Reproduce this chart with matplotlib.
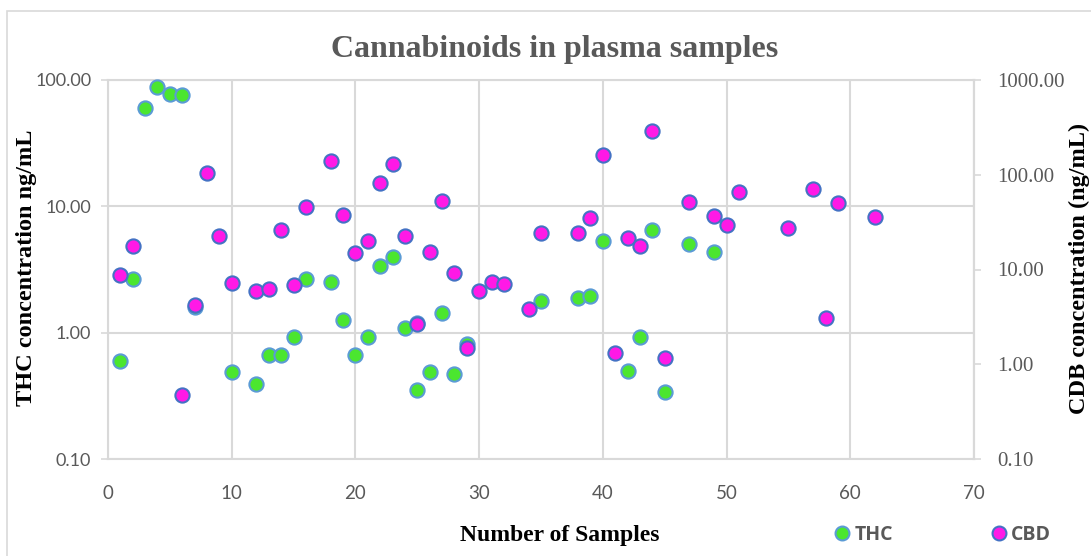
import matplotlib
matplotlib.use("Agg")
import matplotlib.pyplot as plt
from matplotlib.lines import Line2D
from matplotlib.patches import Rectangle
from matplotlib.ticker import FixedLocator, FuncFormatter, NullLocator

# THC (left axis, ng/mL)
thc_x = [1, 2, 3, 4, 5, 6, 7, 10, 12, 13, 14, 15, 16, 18, 19, 20, 21, 22,
         23, 24, 25, 25, 26, 27, 28, 29, 35, 38, 39, 40, 42, 43, 44, 45, 47, 49]
thc_y = [0.60, 2.68, 60, 88, 77, 76, 1.6, 0.49, 0.39, 0.67, 0.67, 0.93, 2.66,
         2.53, 1.26, 0.67, 0.93, 3.4, 3.96, 1.09, 0.35, 1.2, 0.49, 1.43, 0.47,
         0.81, 1.79, 1.89, 1.96, 5.3, 0.50, 0.92, 6.45, 0.34, 5.06, 4.34]

# CBD (right axis, ng/mL)
cbd_x = [1, 2, 6, 7, 8, 9, 10, 12, 13, 14, 15, 16, 18, 19, 20, 21, 22, 23,
         24, 25, 26, 27, 28, 29, 30, 31, 32, 34, 35, 38, 39, 40, 41, 42, 43,
         44, 45, 47, 49, 50, 51, 55, 57, 58, 59, 62]
cbd_y = [8.8, 17.5, 0.47, 4.17, 105, 22.3, 7.17, 6.0, 6.2, 25.8, 6.9, 45.4,
         139, 37.6, 14.9, 19.9, 81.8, 129, 22.6, 2.67, 15.4, 52.6, 9.2, 1.48,
         6.0, 7.35, 7.0, 3.84, 24, 24.5, 35, 160, 1.32, 21.5, 17.8, 292, 1.17,
         52.1, 36.5, 29.5, 65.5, 27.7, 70.5, 3.11, 50.5, 36.1]

x_ticks = [0, 10, 20, 30, 40, 50, 60, 70]
left_ticks = [0.1, 1, 10, 100]
right_ticks = [0.1, 1, 10, 100, 1000]

GRID = "#d9d9d9"
TXT = "#595959"
THC_FILL, THC_EDGE = "#4be62f", "#5b9bd5"
CBD_FILL, CBD_EDGE = "#ff19e6", "#4472c4"

fig = plt.figure(figsize=(10.91, 5.56), dpi=100)
fig.patch.set_facecolor("white")

# outer chart border (partly cropped in the reference)
fig.patches.append(Rectangle((7 / 1091, -0.1), 1.2, 1 - 11 / 556 + 0.1,
                             transform=fig.transFigure, fill=False,
                             edgecolor=GRID, linewidth=1.2))

ax = fig.add_axes([108 / 1091, 97 / 556, 866 / 1091, 379 / 556])
ax.set_xlim(0, 70)
ax.set_yscale("log")
ax.set_ylim(0.1, 100)
ax.xaxis.set_major_locator(FixedLocator(x_ticks))
ax.yaxis.set_major_locator(FixedLocator(left_ticks))
ax.yaxis.set_minor_locator(NullLocator())
ax.yaxis.set_major_formatter(FuncFormatter(lambda v, p: f"{v:.2f}"))
ax.grid(True, color=GRID, linewidth=1.5)
ax.set_axisbelow(True)
for side in ["left", "bottom", "top", "right"]:
    ax.spines[side].set_color(GRID)
    ax.spines[side].set_linewidth(1.5)
ax.tick_params(axis="x", length=0, pad=19, labelsize=13.5, colors=TXT)
ax.tick_params(axis="y", length=5, width=1.2, color=GRID, pad=7,
               labelsize=13, labelcolor=TXT)
for lab in ax.get_xticklabels() + ax.get_yticklabels():
    lab.set_family("Lato")

ax.scatter(thc_x, thc_y, s=105, c=THC_FILL, edgecolors=THC_EDGE,
           linewidths=1.5, zorder=3, clip_on=False)

ax2 = ax.twinx()
ax2.set_yscale("log")
ax2.set_ylim(0.1, 1000)
ax2.yaxis.set_major_locator(FixedLocator(right_ticks))
ax2.yaxis.set_minor_locator(NullLocator())
ax2.yaxis.set_major_formatter(FuncFormatter(lambda v, p: f"{v:.2f}"))
for side in ["left", "bottom", "top", "right"]:
    ax2.spines[side].set_visible(False)
ax2.spines["right"].set_visible(True)
ax2.spines["right"].set_color(GRID)
ax2.spines["right"].set_linewidth(1.5)
ax2.tick_params(axis="y", length=5, width=1.2, color=GRID, pad=12,
                labelsize=15, labelcolor=TXT)
for lab in ax2.get_yticklabels():
    lab.set_family("Liberation Serif")

ax2.scatter(cbd_x, cbd_y, s=105, c=CBD_FILL, edgecolors=CBD_EDGE,
            linewidths=1.5, zorder=3, clip_on=False)

fig.text(555 / 1091, 1 - 50 / 556, "Cannabinoids in plasma samples",
         ha="center", va="center", fontsize=23, fontweight="bold",
         color=TXT, family="Liberation Serif")
fig.text(560 / 1091, 1 - 535 / 556, "Number of Samples", ha="center",
         va="center", fontsize=17, fontweight="bold", color="black",
         family="Liberation Serif")
fig.text(27 / 1091, 1 - 268 / 556, "THC concentration ng/mL", ha="center",
         va="center", rotation=90, fontsize=17.5, fontweight="bold",
         color="black", family="Liberation Serif")
fig.text(1079 / 1091, 1 - 268 / 556, "CDB concentration (ng/mL)",
         ha="center", va="center", rotation=90, fontsize=17.5,
         fontweight="bold", color="black", family="Liberation Serif")

handles = [
    Line2D([], [], marker="o", linestyle="none", markersize=10,
           markerfacecolor=THC_FILL, markeredgecolor=THC_EDGE,
           markeredgewidth=1.5, label="THC"),
    Line2D([], [], marker="o", linestyle="none", markersize=10,
           markerfacecolor=CBD_FILL, markeredgecolor=CBD_EDGE,
           markeredgewidth=1.5, label="CBD"),
]
leg = fig.legend(handles=handles, loc="center",
                 bbox_to_anchor=(942 / 1091, 1 - 535 / 556), ncol=2,
                 frameon=False, handletextpad=0.15, columnspacing=4.9,
                 handlelength=1.0,
                 prop={"family": "Open Sans", "weight": "bold", "size": 14})
for t in leg.get_texts():
    t.set_color(TXT)

fig.savefig("out.png", dpi=100)
